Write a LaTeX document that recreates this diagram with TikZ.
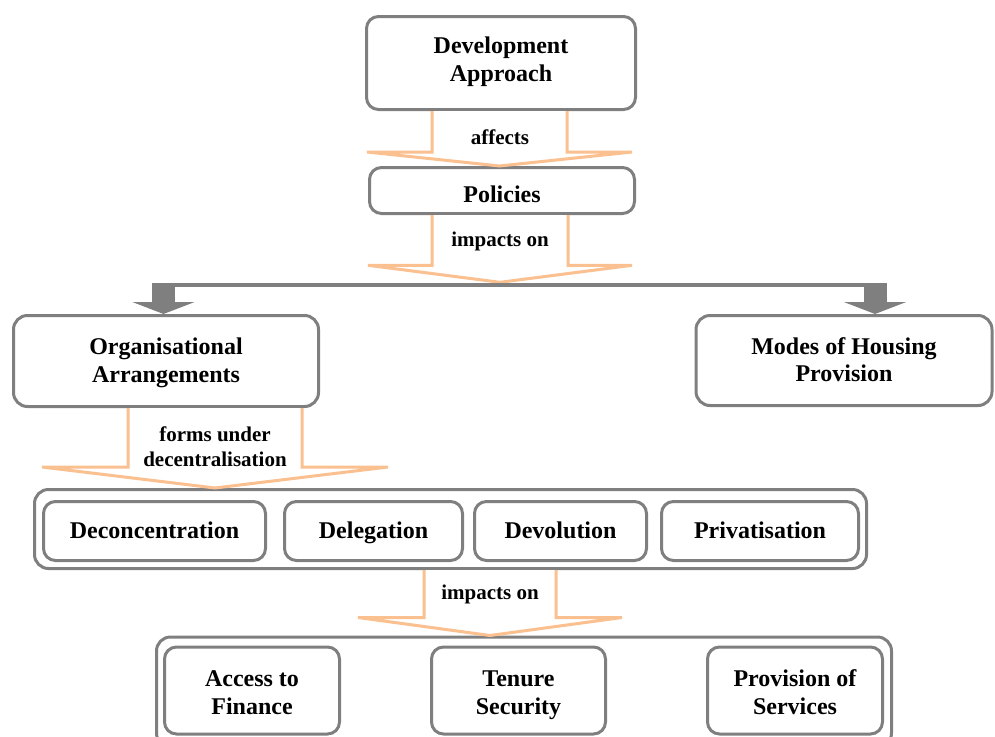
\documentclass[tikz,border=0pt]{standalone}
\usepackage{fontspec}
\setmainfont{Liberation Serif}
\usetikzlibrary{arrows.meta,calc}
\definecolor{boxgray}{HTML}{7F7F7F}
\definecolor{peach}{HTML}{FAC090}
\tikzset{
  box/.style={rectangle, draw=boxgray, fill=white, line width=3pt, rounded corners=12pt,
    align=center, inner sep=0pt, text height=19pt, text depth=5pt,
    font=\fontsize{24}{27.5}\selectfont\bfseries},
  holder/.style={rectangle, draw=boxgray, line width=3pt, rounded corners=14pt, inner sep=0pt},
  fatflow/.style={draw=peach, fill=white, line width=3pt},
  lbl/.style={align=center, inner sep=0pt, font=\fontsize{21}{25}\selectfont\bfseries},
  split/.style={draw=boxgray, line width=3.5pt},
  branch/.style={draw=boxgray, line width=23pt, -{Triangle[length=12pt,width=62pt]}},
}
% from, to, centre x, half shaft, half head, head length
\newcommand{\peacharrow}[6]{%
  \path[fatflow] let \p1=(#1.south), \p2=(#2.north) in
    (#3pt-#4pt,\y1) -- (#3pt-#4pt,\y2+#6pt) -- (#3pt-#5pt,\y2+#6pt) -- (#3pt,\y2)
    -- (#3pt+#5pt,\y2+#6pt) -- (#3pt+#4pt,\y2+#6pt) -- (#3pt+#4pt,\y1);}

\begin{document}
\begin{tikzpicture}[x=1pt,y=-1pt]
  \useasboundingbox (0,0) rectangle (995,736);

  \node[box, minimum width=269pt, minimum height=93pt, text height=41pt] (dev) at (501,63) {Development\\Approach};
  \node[box, minimum width=265pt, minimum height=46pt, text height=29pt] (pol) at (502,190.5) {Policies};

  \node[inner sep=0pt] (split) at (500,283) {};
  \node[box, minimum width=305pt, minimum height=91pt, rounded corners=14pt, text height=47pt] (org) at (166,361) {Organisational\\Arrangements};
  \node[box, minimum width=296pt, minimum height=90pt, rounded corners=14pt, text height=47pt] (modes) at (844,360.5) {Modes of Housing\\Provision};

  % forms of decentralisation
  \node[holder, minimum width=832pt, minimum height=79pt] (forms) at (450.5,529) {};
  \node[box, minimum width=222pt, minimum height=59pt] (deconc) at (154.5,531) {Deconcentration};
  \node[box, minimum width=178pt, minimum height=59pt] (deleg) at (373.5,531) {Delegation};
  \node[box, minimum width=172pt, minimum height=59pt] (devol) at (560.5,531) {Devolution};
  \node[box, minimum width=197pt, minimum height=59pt] (priv) at (760,531) {Privatisation};

  % outcomes
  \node[holder, minimum width=735pt, minimum height=110pt] (outcomes) at (524,692) {};
  \node[box, minimum width=175pt, minimum height=87pt, text height=52pt] (finance) at (252,690.5) {Access to\\Finance};
  \node[box, minimum width=174pt, minimum height=87pt, text height=52pt] (tenure) at (518.5,690.5) {Tenure\\Security};
  \node[box, minimum width=175pt, minimum height=87pt, text height=52pt] (services) at (795,690.5) {Provision of\\Services};

  \peacharrow{dev}{pol}{499.5}{67.5}{132.5}{14}
  \peacharrow{pol}{split}{500}{68}{132}{17}
  \peacharrow{org}{forms}{215}{87}{173}{21}
  \peacharrow{forms}{outcomes}{490}{66}{132}{18}

  \node[lbl] (laffects) at (500,137) {affects};
  \node[lbl] (limpacts) at (500,241) {impacts on};
  \node[lbl] (lforms) at (215,446.5) {forms under\\decentralisation};
  \node[lbl] (limpacts2) at (490,594) {impacts on};

  \coordinate (armL) at (163.5,283);
  \coordinate (armR) at (875,283);
  \draw[split] ([xshift=-11pt,yshift=-1.75pt]armL) -- ([xshift=11pt,yshift=-1.75pt]armR);
  \draw[branch] (armL) -- (armL |- org.north);
  \draw[branch] (armR) -- (armR |- modes.north);
\end{tikzpicture}
\end{document}
